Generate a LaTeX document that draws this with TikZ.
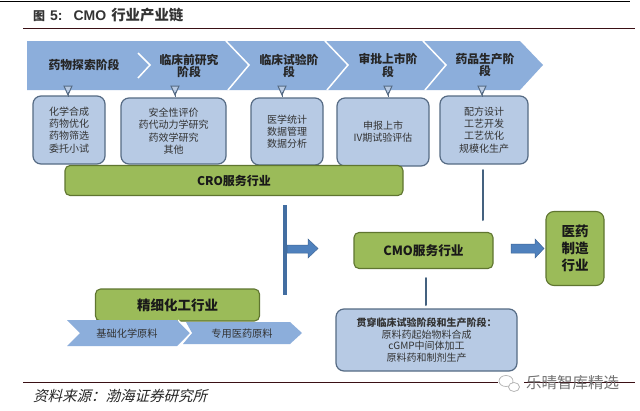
\documentclass[tikz,border=0pt]{standalone}
\usepackage{fontspec}
\setmainfont{Noto Sans CJK SC}
\newfontfamily\cjkslant[FakeSlant=0.25]{Noto Sans CJK SC}
\newfontfamily\titlelatin{Liberation Sans}
\definecolor{chev}{HTML}{8CAEDB}
\definecolor{boxfill}{HTML}{B7CAE4}
\definecolor{boxline}{HTML}{566B84}
\definecolor{grn}{HTML}{9BBB59}
\definecolor{grnline}{HTML}{5F7530}
\definecolor{blu}{HTML}{4F81BD}
\definecolor{vline}{HTML}{44617F}
\definecolor{rule}{HTML}{3A1015}
\tikzset{
  lbox/.style={draw=boxline,fill=boxfill,line width=1.2pt,rounded corners=8pt,align=center,inner sep=0pt,font=\fontsize{10}{12.3}\selectfont,text=black!80},
  gbox/.style={draw=grnline,fill=grn,line width=1.1pt,rounded corners=5pt,align=center,inner sep=0pt,font=\fontsize{12}{14}\bfseries\selectfont,text=black!90},
  chevlabel/.style={align=center,font=\fontsize{11.8}{12.8}\bfseries\selectfont,text=black!85,inner sep=0pt},
  smlabel/.style={align=center,font=\fontsize{10.2}{12}\selectfont,text=black!80,inner sep=0pt},
  chevfill/.style={fill=chev,draw=none},
  sep/.style={draw=white,line width=1.5pt},
  tick/.style={draw=boxline,fill=boxfill,line width=1pt},
  thickline/.style={draw=blu!85!black,line width=4pt},
  stem/.style={draw=vline,line width=2pt,line cap=round},
  block/.style={fill=blu,draw=blu!80!black,line width=.5pt},
  rulein/.style={draw=rule,line width=.9pt}
}
\begin{document}
\begin{tikzpicture}[x=1pt,y=-1pt]
\useasboundingbox (0,0) rectangle (640,410);
\fill[white] (0,0) rectangle (640,410);
% title and rules
\coordinate (tl) at (0,1); \coordinate (tr) at (630,1);
\coordinate (hl) at (23,28); \coordinate (hr) at (635,28);
\coordinate (bl) at (23,382); \coordinate (br) at (635,382);
\draw[black,line width=.9pt] (tl) -- (tr);
\draw[rulein] (hl) -- (hr);
\draw[rulein] (bl) -- (br);
\node[anchor=west,inner sep=0pt,font=\fontsize{12}{15}\bfseries\selectfont,text=black!80] (title) at (33,15) {图\hspace{5pt}{\titlelatin\bfseries\fontsize{14}{15}\selectfont 5:\hspace{11pt}CMO}\hspace{5pt}{\fontsize{14.4}{15}\selectfont 行业产业链}};
\node[anchor=west,inner sep=0pt,font=\fontsize{14.5}{16}\cjkslant,text=black!85] (source) at (33,396) {资料来源：渤海证券研究所};
% chevron band
\fill[chevfill] (27,41) -- (520,41) -- (543,65) -- (520,90) -- (27,90) -- cycle;
\draw[sep] (138,53) -- (150,65) -- (138,78);
\draw[sep] (226,41) -- (249,65) -- (228,90);
\draw[sep] (325,41) -- (348,65) -- (327,90);
\draw[sep] (423,41) -- (446,65) -- (425,90);
\node[chevlabel] (s1) at (84,65) {药物探索阶段};
\node[chevlabel] (s2) at (189,66) {临床前研究\\阶段};
\node[chevlabel] (s3) at (289,66) {临床试验阶\\段};
\node[chevlabel] (s4) at (388,65.5) {审批上市阶\\段};
\node[chevlabel] (s5) at (485,65) {药品生产阶\\段};
% detail boxes
\node[lbox,minimum width=72pt,minimum height=68pt] (d1) at (69,130) {化学合成\\药物优化\\药物筛选\\委托小试};
\node[lbox,minimum width=105pt,minimum height=66pt] (d2) at (173.5,131) {安全性评价\\药代动力学研究\\药效学研究\\其他};
\node[lbox,minimum width=72pt,minimum height=67pt] (d3) at (287,131.5) {医学统计\\数据管理\\数据分析};
\node[lbox,minimum width=92pt,minimum height=68pt] (d4) at (383,132) {申报上市\\IV期试验评估};
\node[lbox,minimum width=88pt,minimum height=68pt] (d5) at (484,130) {配方设计\\工艺开发\\工艺优化\\规模化生产};
% small triangles
\foreach \x in {68,175,282,388,482}{
  \draw[tick] (\x-4,86) -- (\x+4,86) -- (\x,95) -- cycle;
  \draw[draw=boxline,line width=1pt] (\x,92) -- (\x,97);
}
% green boxes
\node[gbox,minimum width=338pt,minimum height=30pt] (cro) at (234,180.5) {CRO服务行业};
\node[gbox,minimum width=164pt,minimum height=32pt,font=\fontsize{13.5}{15}\bfseries\selectfont] (fine) at (177.5,305) {精细化工行业};
\node[gbox,minimum width=139pt,minimum height=36pt,font=\fontsize{12.7}{15}\bfseries\selectfont] (cmo) at (423.5,250.5) {CMO服务行业};
\node[gbox,minimum width=58pt,minimum height=74pt,rounded corners=8pt,font=\fontsize{13.5}{17}\bfseries\selectfont] (mfg) at (575,248.5) {医药\\制造\\行业};
% raw-material chevrons
\fill[chevfill] (67,320) -- (177,320) -- (190,333) -- (177,346) -- (67,346) -- (80,333) -- cycle;
\fill[chevfill] (186,322) -- (290,322) -- (302,333) -- (290,344) -- (183,344) -- (192,333) -- cycle;
\draw[sep,line width=1.2pt] (178,320) -- (191,333) -- (180,345);
\node[smlabel] (raw1) at (127,333.5) {基础化学原料};
\node[smlabel] (raw2) at (242,333.5) {专用医药原料};
% bottom box
\node[lbox,minimum width=181pt,minimum height=62pt,font=\fontsize{10}{11.8}\selectfont] (through) at (426.5,340) {\textbf{贯穿临床试验阶段和生产阶段：}\\原料药起始物料合成\\cGMP中间体加工\\原料药和制剂生产};
% connectors
\coordinate (v1) at (285,205); \coordinate (v2) at (285,295);
\draw[thickline] (v1) -- (v2);
\fill[block] (287,245) -- (308,245) -- (308,239) -- (318,248.5) -- (308,258) -- (308,253) -- (287,253) -- cycle;
\fill[block] (511,244) -- (535,244) -- (535,239) -- (544,248.5) -- (535,258) -- (535,253) -- (511,253) -- cycle;
\coordinate (u1) at (483,220); \coordinate (u2) at (483,170);
\draw[stem] (u1) -- (u2);
\coordinate (w1) at (426,278); \coordinate (w2) at (426,305);
\draw[stem] (w1) -- (w2);
% watermark
\fill[white] (498,374) rectangle (524,393);
\draw[gray!60,line width=.7pt,fill=white] (506,381) ellipse (7pt and 5.5pt);
\draw[gray!60,line width=.7pt,fill=white] (514,387) ellipse (5.5pt and 4.5pt);
\node[anchor=west,inner sep=0pt,font=\fontsize{15.5}{17}\selectfont,text=black!55] (wm) at (526,383) {乐晴智库精选};
\end{tikzpicture}
\end{document}
